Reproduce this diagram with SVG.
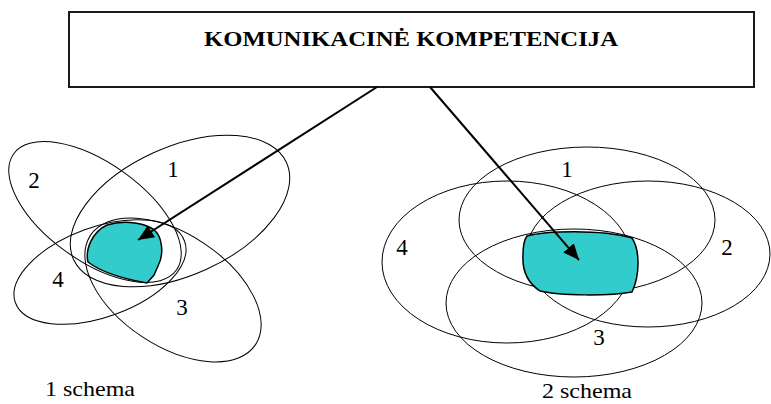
<svg xmlns="http://www.w3.org/2000/svg" width="771" height="404" viewBox="0 0 771 404">
<defs>
<style>
.ell{fill:none;stroke:#000;stroke-width:1}
.blob{fill:#33CCCC;stroke:#000;stroke-width:1.5}
.lbl{font-family:"Liberation Serif","Times New Roman",serif;font-size:23px;fill:#000;text-anchor:middle}
.cap{font-family:"Liberation Serif","Times New Roman",serif;font-size:21px;fill:#000}
.arr{stroke:#000;stroke-width:2;fill:none;marker-end:url(#ah)}
</style>
<marker id="ah" markerUnits="userSpaceOnUse" markerWidth="18" markerHeight="14" refX="16" refY="7" orient="auto">
<path d="M0,0 L16,7 L0,14 Z" fill="#000"/>
</marker>
</defs>
<rect width="771" height="404" fill="#fff"/>
<g id="title">
<rect x="69" y="12" width="685" height="75" fill="#fff" stroke="#1a1a1a" stroke-width="2"/>
<text x="204" y="46" class="cap" font-size="22" font-weight="bold" textLength="414" lengthAdjust="spacingAndGlyphs">KOMUNIKACINĖ KOMPETENCIJA</text>
</g>
<g id="schema1">
<ellipse class="ell" cx="180" cy="211" rx="117" ry="64" transform="rotate(-24.5 180 211)"/>
<ellipse class="ell" cx="95" cy="212" rx="100" ry="49" transform="rotate(35.5 95 212)"/>
<ellipse class="ell" cx="173" cy="290" rx="99" ry="56" transform="rotate(33.5 173 290)"/>
<ellipse class="ell" cx="100" cy="272" rx="90" ry="45" transform="rotate(-20 100 272)"/>
<path class="blob" d="M107,225 C120,221 140,221 153,229 C163,236 164,255 158,266 L154,275 L147,283 C130,280 105,275 88,262 C85,250 92,232 107,225 Z"/>
<text class="lbl" x="34" y="188">2</text>
<text class="lbl" x="173" y="177">1</text>
<text class="lbl" x="58" y="287">4</text>
<text class="lbl" x="182" y="315">3</text>
<text class="cap" x="45" y="396" font-size="22" textLength="90" lengthAdjust="spacingAndGlyphs">1 schema</text>
</g>
<g id="schema2">
<ellipse class="ell" cx="587" cy="220" rx="128" ry="73"/>
<ellipse class="ell" cx="507" cy="262" rx="125" ry="81"/>
<ellipse class="ell" cx="648" cy="254" rx="122" ry="73"/>
<ellipse class="ell" cx="574" cy="303" rx="128" ry="74"/>
<path class="blob" d="M527,236 C545,231 600,229 632,238 C640,250 640,275 632,292 C610,296 560,296 540,291 C528,283 522,270 523,255 C523,246 524,240 527,236 Z"/>
<text class="lbl" x="567" y="177">1</text>
<text class="lbl" x="402" y="255">4</text>
<text class="lbl" x="727" y="255">2</text>
<text class="lbl" x="599" y="345">3</text>
<text class="cap" x="542" y="398" font-size="22" textLength="90" lengthAdjust="spacingAndGlyphs">2 schema</text>
</g>
<g id="connectors">
<line class="arr" x1="377" y1="87" x2="138" y2="240"/>
<line class="arr" x1="430" y1="87" x2="579" y2="260"/>
</g>
</svg>
